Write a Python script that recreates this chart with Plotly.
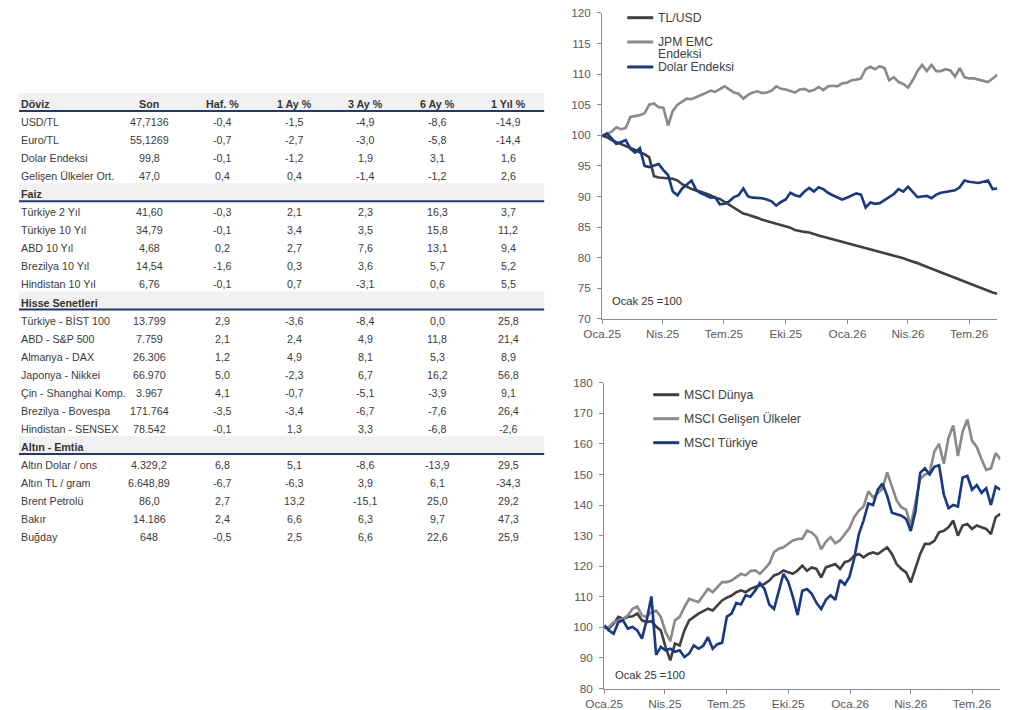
import plotly.graph_objects as go
import pandas as pd

W, H = 1020, 710

# ---------------- DATA ----------------
table_columns = ["Son", "Haf. %", "1 Ay %", "3 Ay %", "6 Ay %", "1 Yıl %"]

doviz_names = ["USD/TL", "Euro/TL", "Dolar Endeksi", "Gelişen Ülkeler Ort."]
doviz_values = [
    ["47,7136", "-0,4", "-1,5", "-4,9", "-8,6", "-14,9"],
    ["55,1269", "-0,7", "-2,7", "-3,0", "-5,8", "-14,4"],
    ["99,8", "-0,1", "-1,2", "1,9", "3,1", "1,6"],
    ["47,0", "0,4", "0,4", "-1,4", "-1,2", "2,6"],
]
faiz_names = ["Türkiye 2 Yıl", "Türkiye 10 Yıl", "ABD 10 Yıl", "Brezilya 10 Yıl", "Hindistan 10 Yıl"]
faiz_values = [
    ["41,60", "-0,3", "2,1", "2,3", "16,3", "3,7"],
    ["34,79", "-0,1", "3,4", "3,5", "15,8", "11,2"],
    ["4,68", "0,2", "2,7", "7,6", "13,1", "9,4"],
    ["14,54", "-1,6", "0,3", "3,6", "5,7", "5,2"],
    ["6,76", "-0,1", "0,7", "-3,1", "0,6", "5,5"],
]
hisse_names = ["Türkiye - BİST 100", "ABD - S&P 500", "Almanya - DAX", "Japonya - Nikkei",
               "Çin - Shanghai Komp.", "Brezilya - Bovespa", "Hindistan - SENSEX"]
hisse_values = [
    ["13.799", "2,9", "-3,6", "-8,4", "0,0", "25,8"],
    ["7.759", "2,1", "2,4", "4,9", "11,8", "21,4"],
    ["26.306", "1,2", "4,9", "8,1", "5,3", "8,9"],
    ["66.970", "5,0", "-2,3", "6,7", "16,2", "56,8"],
    ["3.967", "4,1", "-0,7", "-5,1", "-3,9", "9,1"],
    ["171.764", "-3,5", "-3,4", "-6,7", "-7,6", "26,4"],
    ["78.542", "-0,1", "1,3", "3,3", "-6,8", "-2,6"],
]
emtia_names = ["Altın Dolar / ons", "Altın TL / gram", "Brent Petrolü", "Bakır", "Buğday"]
emtia_values = [
    ["4.329,2", "6,8", "5,1", "-8,6", "-13,9", "29,5"],
    ["6.648,89", "-6,7", "-6,3", "3,9", "6,1", "-34,3"],
    ["86,0", "2,7", "13,2", "-15,1", "25,0", "29,2"],
    ["14.186", "2,4", "6,6", "6,3", "9,7", "47,3"],
    ["648", "-0,5", "2,5", "6,6", "22,6", "25,9"],
]
section_titles = ["Döviz", "Faiz", "Hisse Senetleri", "Altın - Emtia"]

# weekly observation dates (index Ocak 2025 = 100)
dates = pd.date_range("2025-01-01", periods=85, freq="7D")
tick_dates = ["2025-01-01", "2025-04-01", "2025-07-01", "2025-10-01",
              "2026-01-01", "2026-04-01", "2026-07-01"]
tick_labels = ["Oca.25", "Nis.25", "Tem.25", "Eki.25", "Oca.26", "Nis.26", "Tem.26"]

tl_usd = [
    100.0, 99.7, 99.2, 98.9, 98.5, 98.2, 97.9, 97.6, 97.2, 96.9,
    96.4, 93.3, 93.1, 93.0, 93.0, 92.9, 92.6, 92.0, 91.6, 91.2,
    91.0, 90.8, 90.5, 90.2, 89.8, 89.6, 89.1, 88.7, 88.2, 87.6,
    87.2, 87.0, 86.8, 86.5, 86.2, 86.0, 85.8, 85.6, 85.4, 85.1,
    84.9, 84.5, 84.3, 84.2, 84.1, 83.8, 83.6, 83.4, 83.2, 83.0,
    82.8, 82.6, 82.4, 82.2, 82.0, 81.8, 81.6, 81.4, 81.2, 81.0,
    80.8, 80.6, 80.4, 80.1, 79.9, 79.6, 79.4, 79.1, 78.8, 78.5,
    78.2, 77.9, 77.6, 77.3, 77.0, 76.6, 76.3, 76.0, 75.7, 75.4,
    75.1, 74.8, 74.6, 74.3, 74.1,
]
jpm_emc = [
    100.0, 100.2, 100.6, 101.3, 101.0, 101.2, 103.0, 103.1, 103.3, 103.6,
    105.0, 105.2, 104.6, 104.5, 101.6, 104.0, 105.0, 105.5, 106.0, 105.9,
    106.3, 106.6, 106.9, 107.3, 107.1, 107.6, 108.0, 107.5, 107.0, 106.8,
    106.0, 106.6, 107.0, 107.2, 106.9, 107.0, 107.3, 108.0, 107.6, 107.5,
    107.2, 107.0, 107.5, 107.6, 107.2, 107.4, 107.9, 107.4, 108.0, 108.1,
    108.0, 108.5, 108.6, 109.0, 109.1, 109.3, 110.8, 111.2, 110.8, 111.3,
    111.0, 109.0, 109.5, 108.7, 108.4, 107.8, 109.0, 110.5, 111.5, 110.5,
    111.5, 110.5, 110.5, 110.8, 110.6, 109.6, 111.0, 109.5, 109.3, 109.3,
    109.1, 108.9, 108.7, 109.3, 109.9,
]
dolar_endeksi = [
    99.8, 100.3, 99.5, 98.6, 98.9, 99.2, 97.8, 97.2, 97.9, 95.0,
    94.8, 95.0, 95.3, 94.3, 93.5, 90.8, 90.2, 91.3, 92.0, 92.6,
    91.0, 90.5, 90.2, 89.8, 89.9, 88.7, 88.8, 89.2, 89.9, 90.2,
    91.3, 90.0, 89.8, 89.8, 89.7, 89.5, 89.2, 88.5, 89.1, 89.5,
    90.6, 90.2, 90.0, 90.8, 91.4, 90.8, 91.5, 91.2, 90.6, 90.2,
    89.8, 89.5, 89.8, 90.2, 90.5, 90.3, 88.2, 89.0, 88.8, 88.9,
    89.4, 89.8, 90.4, 91.2, 90.8, 91.6, 90.7, 89.9, 90.0, 90.1,
    89.7, 90.3, 90.6, 90.7, 90.8, 91.0, 91.5, 92.6, 92.4, 92.3,
    92.2, 92.4, 92.6, 91.2, 91.3,
]
msci_dunya = [
    100.0, 99.6, 101.2, 103.4, 102.8, 103.4, 103.6, 104.5, 102.3, 101.7,
    102.0, 100.3, 99.0, 93.6, 89.2, 94.7, 94.1, 99.0, 102.3, 103.4,
    104.5, 105.3, 106.1, 105.5, 107.2, 108.8, 109.7, 110.4, 111.5, 112.1,
    111.5, 112.6, 113.2, 113.7, 114.2, 115.3, 117.0, 117.5, 118.6, 118.0,
    117.5, 118.6, 120.2, 118.5, 119.6, 119.1, 116.3, 119.6, 120.2, 120.7,
    119.1, 121.3, 121.8, 123.4, 124.0, 122.9, 124.0, 124.5, 124.0, 125.1,
    126.2, 124.0, 120.7, 119.1, 118.0, 114.7, 119.6, 124.0, 127.3, 127.3,
    128.3, 131.1, 131.6, 132.7, 134.9, 130.0, 133.3, 133.8, 132.2, 133.3,
    132.7, 132.2, 130.5, 136.0, 137.1,
]
msci_gelisen = [
    100.0, 100.1, 101.7, 102.3, 102.8, 103.9, 106.1, 106.8, 103.9, 103.4,
    105.0, 105.5, 103.4, 98.5, 95.5, 102.3, 103.4, 106.6, 109.3, 108.8,
    108.3, 110.4, 112.6, 111.5, 113.2, 114.8, 114.8, 115.3, 116.4, 117.5,
    117.0, 118.4, 118.6, 117.5, 119.1, 120.8, 124.6, 125.7, 126.2, 127.3,
    128.4, 128.9, 129.0, 131.6, 131.0, 129.5, 125.5, 128.0, 129.5, 127.5,
    128.5, 130.5, 132.5, 136.0, 138.2, 139.5, 144.5, 142.5, 144.0, 145.3,
    150.7, 146.0, 141.5, 139.3, 138.5, 133.3, 141.4, 148.5, 150.0, 150.5,
    157.5, 160.0, 153.5, 162.0, 166.0, 156.0, 164.0, 168.0, 161.0, 159.0,
    155.0, 151.5, 152.0, 157.0, 155.0,
]
msci_turkiye = [
    100.7, 99.0, 97.9, 101.7, 102.3, 99.6, 100.1, 99.0, 96.3, 102.3,
    110.1, 91.0, 93.6, 92.5, 93.0, 92.0, 92.5, 90.3, 91.4, 94.1,
    93.0, 94.0, 96.8, 93.0, 94.5, 95.0, 103.5, 104.5, 108.0, 107.5,
    110.5, 110.0, 112.0, 114.5, 112.5, 107.5, 106.0, 112.0, 117.5, 115.0,
    110.0, 104.0, 112.0, 112.5, 111.0, 108.0, 106.0, 109.0, 110.5, 109.0,
    115.5, 114.0, 116.5, 122.5, 130.5, 135.0, 140.5, 140.0, 145.0, 147.0,
    143.0, 137.5, 137.0, 136.5, 135.5, 131.5, 138.0, 150.5, 152.0, 150.0,
    152.5, 153.0, 143.5, 139.0, 140.0, 139.5, 149.0, 149.5, 145.0, 146.5,
    144.0, 145.5, 140.0, 146.0, 145.0,
]
top_names = ["TL/USD", "JPM EMC<br>Endeksi", "Dolar Endeksi"]
bottom_names = ["MSCI Dünya", "MSCI Gelişen Ülkeler", "MSCI Türkiye"]
base_note = "Ocak 25 =100"

# ---------------- STYLE ----------------
DARK = "#404040"
LIGHT = "#8a8a8a"
NAVY = "#183a85"
AXIS = "#8c8c8c"
# the photographed page shows the figure slightly reduced and inset; place everything so it lands
# on the intended spot of the picture
S, OX, OY = 0.981, 18.0, 6.0
TICKF = dict(family="Liberation Sans, Arial, sans-serif", size=11.5 / S, color="#595959")
TABF = "Liberation Sans Narrow, Arial Narrow, Liberation Sans, Arial, sans-serif"
TAB_SIZE = 10.5 / S


def fx(p):
    return max(0.0, (p - OX) / S)


def fy(p):
    return max(0.0, (p - OY) / S)


def px(p):
    return min(1.0, fx(p) / W)


def py(p):
    return max(0.0, 1 - fy(p) / H)


fig = go.Figure()
top_series = [tl_usd, jpm_emc, dolar_endeksi]
bottom_series = [msci_dunya, msci_gelisen, msci_turkiye]
colors = [DARK, LIGHT, NAVY]
LW = 2.6 / S
for name, s, c in zip(top_names, top_series, colors):
    fig.add_trace(go.Scatter(x=dates, y=s, mode="lines", name=name.replace("<br>", " "),
                             line=dict(color=c, width=LW), xaxis="x", yaxis="y",
                             hoverinfo="skip"))
for name, s, c in zip(bottom_names, bottom_series, colors):
    fig.add_trace(go.Scatter(x=dates, y=s, mode="lines", name=name,
                             line=dict(color=c, width=LW), xaxis="x2", yaxis="y2",
                             hoverinfo="skip"))

xr = [str(dates[0].date()), str(dates[-1].date())]
common_x = dict(type="date", range=xr, tickmode="array", tickvals=tick_dates, ticktext=tick_labels,
                showline=True, linecolor=AXIS, linewidth=1, ticks="outside", ticklen=4,
                tickcolor=AXIS, showgrid=False, zeroline=False, tickfont=TICKF, fixedrange=True)
common_y = dict(showline=True, linecolor=AXIS, linewidth=1, ticks="outside", ticklen=4,
                tickcolor=AXIS, showgrid=False, zeroline=False, tickfont=TICKF,
                ticklabelstandoff=4, fixedrange=True)

annotations = []
shapes = []

# ----- table -----
col_x = [148, 221, 293, 364, 436, 507]
row_y0 = 103.0
row_h = 18.07
tab_right = 543
name_x = 0.2 / W  # as far left as the page allows
r = 0
for si, (title, names, vals) in enumerate(zip(section_titles,
                                               [doviz_names, faiz_names, hisse_names, emtia_names],
                                               [doviz_values, faiz_values, hisse_values, emtia_values])):
    yc = row_y0 + r * row_h
    shapes.append(dict(type="rect", xref="paper", yref="paper", x0=0, x1=px(tab_right),
                       y0=py(yc + 7), y1=py(yc - 11), fillcolor="#f1f1f1", line=dict(width=0),
                       layer="below"))
    shapes.append(dict(type="line", xref="paper", yref="paper", x0=0, x1=px(tab_right),
                       y0=py(yc + 7), y1=py(yc + 7), line=dict(color="#1f3a70", width=2)))
    annotations.append(dict(text="<b>" + title + "</b>", x=name_x, y=py(yc), xref="paper", yref="paper",
                            xanchor="left", yanchor="middle", showarrow=False,
                            font=dict(family=TABF, size=TAB_SIZE, color="#333333")))
    if si == 0:
        for cx, cname in zip(col_x, table_columns):
            annotations.append(dict(text="<b>" + cname + "</b>", x=px(cx), y=py(yc), xref="paper",
                                    yref="paper", xanchor="center", yanchor="middle", showarrow=False,
                                    font=dict(family=TABF, size=TAB_SIZE, color="#333333")))
    r += 1
    for nm, row in zip(names, vals):
        yc = row_y0 + r * row_h
        annotations.append(dict(text=nm, x=name_x, y=py(yc), xref="paper", yref="paper",
                                xanchor="left", yanchor="middle", showarrow=False,
                                font=dict(family=TABF, size=TAB_SIZE, color="#3a3a3a")))
        for cx, v in zip(col_x, row):
            annotations.append(dict(text=v, x=px(cx), y=py(yc), xref="paper", yref="paper",
                                    xanchor="center", yanchor="middle", showarrow=False,
                                    font=dict(family=TABF, size=TAB_SIZE, color="#3a3a3a")))
        r += 1

# ----- manual legends -----
LEGF = dict(family="Liberation Sans, Arial, sans-serif", size=12 / S, color=DARK)
top_leg_y = [16.7, 41, 66]
for nm, c, ly in zip(top_names, colors, top_leg_y):
    shapes.append(dict(type="line", xref="paper", yref="paper", x0=px(626), x1=px(652),
                       y0=py(ly), y1=py(ly), line=dict(color=c, width=3)))
    for li, part in enumerate(nm.split("<br>")):
        annotations.append(dict(text=part, x=px(655), y=py(ly + 12.5 * li), xref="paper", yref="paper",
                                xanchor="left", yanchor="middle", showarrow=False, font=LEGF))
bot_leg_y = [394, 418, 442]
for nm, c, ly in zip(bottom_names, colors, bot_leg_y):
    shapes.append(dict(type="line", xref="paper", yref="paper", x0=px(652), x1=px(678),
                       y0=py(ly), y1=py(ly), line=dict(color=c, width=3)))
    annotations.append(dict(text=nm, x=px(681), y=py(ly), xref="paper", yref="paper",
                            xanchor="left", yanchor="middle", showarrow=False, font=LEGF))

NOTEF = dict(family="Liberation Sans, Arial, sans-serif", size=11 / S, color="#333333")
annotations.append(dict(text=base_note, x=px(609), y=py(300), xref="paper", yref="paper",
                        xanchor="left", yanchor="middle", showarrow=False, font=NOTEF))
annotations.append(dict(text=base_note, x=px(612), y=py(674), xref="paper", yref="paper",
                        xanchor="left", yanchor="middle", showarrow=False, font=NOTEF))

fig.update_layout(
    width=W, height=H, autosize=False,
    margin=dict(l=0, r=0, t=0, b=0),
    paper_bgcolor="white", plot_bgcolor="white",
    showlegend=False,
    xaxis=dict(domain=[px(601), px(996)], anchor="y", **common_x),
    yaxis=dict(domain=[py(318), py(12)], anchor="x", range=[70, 120], tick0=70, dtick=5, **common_y),
    xaxis2=dict(domain=[px(603), px(999)], anchor="y2", **common_x),
    yaxis2=dict(domain=[py(688), py(382)], anchor="x2", range=[80, 180], tick0=80, dtick=10, **common_y),
    annotations=annotations,
    shapes=shapes,
)

fig.write_html("out.html", config={"displayModeBar": False},
               post_script="document.body.style.margin='0px';document.body.style.overflow='hidden';")
